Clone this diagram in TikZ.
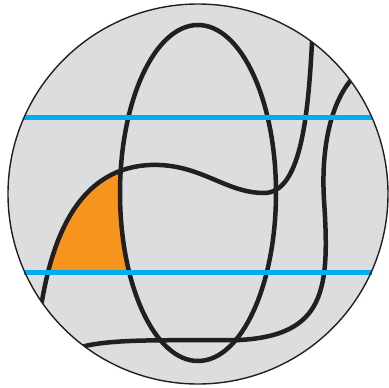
\documentclass[tikz,border=0pt]{standalone}
\usepackage{tikz}
\usetikzlibrary{calc}
\usepackage{xcolor}
\definecolor{diskgray}{HTML}{DCDDDF}
\definecolor{cutblue}{HTML}{00AEEF}
\definecolor{patchorange}{HTML}{F7941D}
\definecolor{inkblack}{HTML}{231F20}

\begin{document}
\begin{tikzpicture}[x=1pt, y=-1pt,
  curve/.style={draw=inkblack, line width=4.5pt},
  cutline/.style={draw=cutblue, line width=5pt}]
\useasboundingbox (0,0) rectangle (389,388);
\coordinate (O) at (198,194);
\fill[diskgray] (O) circle (190);
\begin{scope}
\clip (0,0) rectangle (198,272);
\clip (42,301) .. controls (55,225) and (85,168) .. (150,165) -- (198,165) -- (198,301) -- cycle;
\fill[patchorange] (0,0) rectangle (198,301);
\fill[diskgray] (198,193) ellipse [x radius=78, y radius=168];
\end{scope}
\begin{scope}
\clip (O) circle (190);
\draw[curve] (198,193) ellipse [x radius=78, y radius=168];
\draw[curve] (40,308) -- (42,301) .. controls (55,225) and (85,168) .. (150,165)
  .. controls (200,163) and (225,193) .. (264,193)
  .. controls (300,193) and (308,120) .. (312,42) -- (312,30);
\draw[curve] (357,72) -- (351,80) .. controls (330,105) and (321,150) .. (324,200)
  .. controls (330,290) and (325,335) .. (240,340)
  .. controls (180,341) and (120,338) .. (85,346) -- (75,349);
\end{scope}
\draw[cutline] ($(O)+(-173.7,-77)$) -- ($(O)+(173.7,-77)$);
\draw[cutline] ($(O)+(-174,78)$) -- ($(O)+(174,78)$);
\draw[inkblack, line width=1.4pt] (O) circle (190);
\end{tikzpicture}
\end{document}
